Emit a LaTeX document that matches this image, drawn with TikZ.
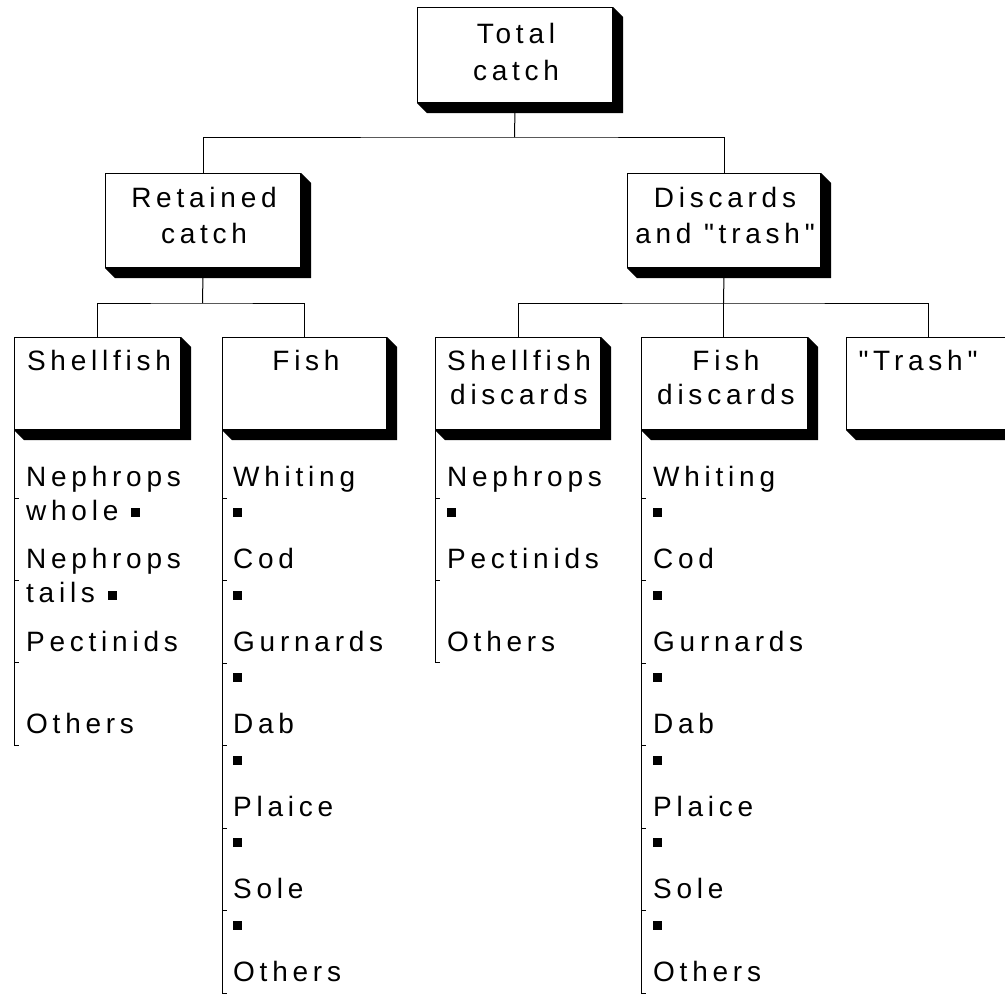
\documentclass[tikz,border=0pt]{standalone}
\usepackage{fontspec}
\setmainfont{Liberation Sans}[LetterSpace=17, Ligatures=TeXOff]
\newcommand\sq{\raisebox{3pt}{\rule{9pt}{9pt}}}
\newcommand\mybox[5]{%
  \node[box, anchor=north west, minimum width={#4pt-#2pt}, minimum height={#5pt-#3pt}] (#1) at (#2,#3) {};
  \fill[black] (#1.south west) -- ++(10pt,-10pt) -- ([shift={(10pt,-10pt)}]#1.south east)
     -- ([shift={(10pt,-10pt)}]#1.north east) -- (#1.north east) -- (#1.south east) -- cycle;
}
\begin{document}
\begin{tikzpicture}[x=1pt,y=-1pt,
  box/.style={draw, line width=1.2pt, fill=white, inner sep=0pt},
  conn/.style={line width=1pt},
  tick/.style={line width=0.8pt},
  txt/.style={font=\fontsize{28}{32}\selectfont, anchor=base, inner sep=0pt},
  itm/.style={font=\fontsize{28}{32}\selectfont, anchor=base west, inner sep=0pt}]
\useasboundingbox (0,0) rectangle (1005,997);
\clip (0,0) rectangle (1005,997);
% boxes
\mybox{total}{417}{7}{612}{102}
\mybox{retained}{105}{173}{300}{267}
\mybox{discards}{627}{173}{820}{267}
\mybox{shell}{14}{337}{180}{429}
\mybox{fish}{222}{337}{386}{429}
\mybox{shelld}{435}{337}{600}{429}
\mybox{fishd}{641}{337}{807}{429}
\mybox{trash}{846}{337}{1010}{429}
% box texts
\node[txt] (tt1) at (516,43) {Total};
\node[txt] (tt2) at (516,80) {catch};
\node[txt] (rt1) at (204,207) {Retained};
\node[txt] (rt2) at (204,243) {catch};
\node[txt] (dt1) at (725,207) {Discards};
\node[txt] (dt2) at (725,243) {and "trash"};
\node[txt] (st1) at (99,370) {Shellfish};
\node[txt] (ft1) at (306,370) {Fish};
\node[txt] (sd1) at (519,370) {Shellfish};
\node[txt] (sd2) at (519,404) {discards};
\node[txt] (fd1) at (726,370) {Fish};
\node[txt] (fd2) at (726,404) {discards};
\node[txt] (tr1) at (918,370) {"Trash"};
% connectors
\coordinate (j1) at (514.5,137);
\coordinate (j2) at (202.5,303);
\coordinate (j3) at (723.5,303);
\draw[conn] (total.south) -- (j1);
\draw[conn] (retained.north) |- (j1) -| (discards.north);
\draw[conn] (retained.south) -- (j2);
\draw[conn] (shell.north) |- (j2) -| (fish.north);
\draw[conn] (discards.south) -- (j3);
\draw[conn] (shelld.north) |- (j3) -| (trash.north);
\draw[conn] (j3) -- (j3 |- fishd.north);
% list lines
\coordinate (e1) at (14,745);
\coordinate (e2) at (222,993);
\coordinate (e3) at (435,662);
\coordinate (e4) at (641,993);
\draw[conn] (shell.south west) -- (e1) -- ++(5,0);
\draw[conn] (fish.south west) -- (e2) -- ++(5,0);
\draw[conn] (shelld.south west) -- (e3) -- ++(5,0);
\draw[conn] (fishd.south west) -- (e4) -- ++(5,0);
\foreach \y in {498,580.5}{\draw[tick] (14,\y) -- ++(5,0); \draw[tick] (435,\y) -- ++(5,0);}
\draw[tick] (14,662) -- ++(5,0);
\foreach \y in {498,580.5,663,745.5,828,910.5}{\draw[tick] (222,\y) -- ++(5,0); \draw[tick] (641,\y) -- ++(5,0);}
% shellfish list
\node[itm] (a1) at (26,486) {Nephrops};
\node[itm] (a2) at (26,520) {whole \sq};
\node[itm] (a3) at (26,568.5) {Nephrops};
\node[itm] (a4) at (26,602.5) {tails \sq};
\node[itm] (a5) at (26,651) {Pectinids};
\node[itm] (a6) at (26,733.5) {Others};
% fish lists
\foreach \n/\t [count=\i from 0] in {b1/Whiting,b2/Cod,b3/Gurnards,b4/Dab,b5/Plaice,b6/Sole}{
  \node[itm] (\n) at (233,486+82.5*\i) {\t};
  \node[itm] (\n q) at (233,520+82.5*\i) {\sq};
  \node[itm] (\n d) at (653,486+82.5*\i) {\t};
  \node[itm] (\n dq) at (653,520+82.5*\i) {\sq};
}
\node[itm] (b7) at (233,981) {Others};
\node[itm] (b7d) at (653,981) {Others};
% shellfish discards list
\node[itm] (c1) at (447,486) {Nephrops};
\node[itm] (c2) at (447,520) {\sq};
\node[itm] (c3) at (447,568.5) {Pectinids};
\node[itm] (c4) at (447,651) {Others};
\end{tikzpicture}
\end{document}
